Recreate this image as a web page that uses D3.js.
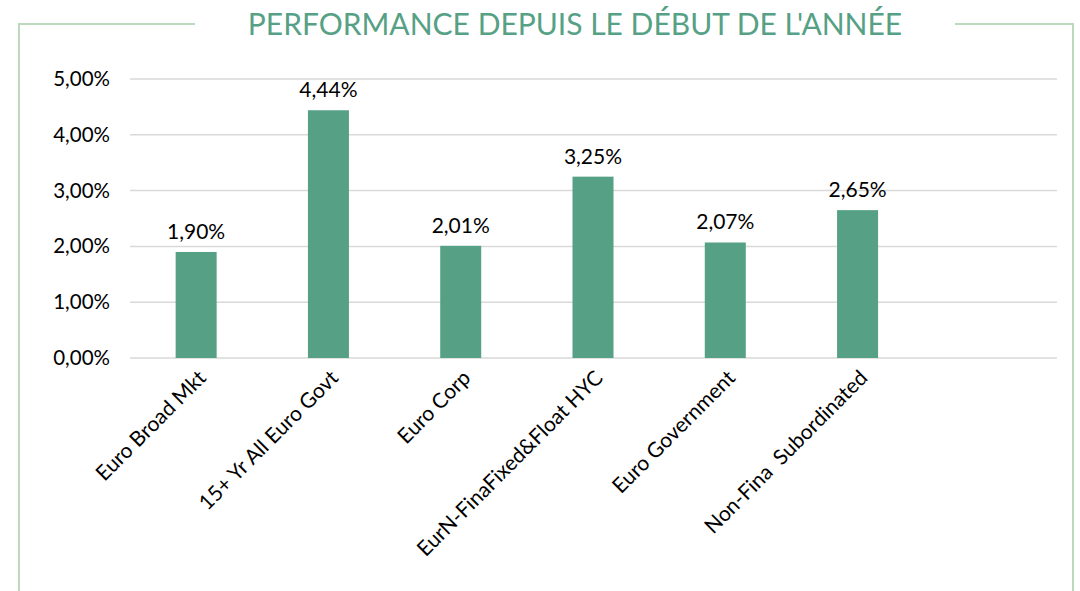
<!DOCTYPE html>
<html>
<head>
<meta charset="utf-8">
<script src="https://cdn.jsdelivr.net/npm/d3@7"></script>
<style>
  body { margin: 0; background: #fff; }
  svg { display: block; font-family: Lato, "Open Sans", sans-serif; }
</style>
</head>
<body>
<svg id="chart" width="1080" height="591"></svg>
<script>
var categories = ["Euro Broad Mkt", "15+ Yr All Euro Govt", "Euro Corp", "EurN-FinaFixed&Float HYC", "Euro Government", "Non-Fina  Subordinated", ""];
var values = [1.90, 4.44, 2.01, 3.25, 2.07, 2.65, null];
var yTicks = [0, 1, 2, 3, 4, 5];
var title = "PERFORMANCE DEPUIS LE DÉBUT DE L'ANNÉE";

var svg = d3.select("#chart");
var green = "#56a185";
var frame = "#bcd9bd";

// frame around the chart, broken by the title
svg.append("path")
    .attr("d", "M195,24 H19 V591 M955,24 H1073 V591")
    .attr("fill", "none")
    .attr("stroke", frame)
    .attr("stroke-width", 2);

svg.append("text")
    .attr("x", 575)
    .attr("y", 35)
    .attr("text-anchor", "middle")
    .attr("fill", green)
    .style("font-size", "30px")
    .text(title);

var x = d3.scaleBand()
    .domain(categories.map(function (d, i) { return i; }))
    .range([130, 1056])
    .paddingInner(0.69)
    .paddingOuter(0.345);

var y = d3.scaleLinear().domain([0, 5]).range([358, 79]);

// gridlines
svg.append("g")
    .selectAll("line")
    .data(yTicks)
    .enter().append("line")
    .attr("x1", 130)
    .attr("x2", 1057)
    .attr("y1", function (d) { return y(d); })
    .attr("y2", function (d) { return y(d); })
    .attr("stroke", "#d9d9d9")
    .attr("stroke-width", 1.5);

// y axis labels
var fmt = function (v) { return v.toFixed(2).replace(".", ",") + "%"; };
var yAxis = svg.append("g")
    .attr("transform", "translate(110,0)")
    .call(d3.axisLeft(y).tickValues(yTicks).tickSize(0).tickPadding(0).tickFormat(fmt));
yAxis.select(".domain").remove();
yAxis.selectAll("text")
    .attr("fill", "#000")
    .style("font-family", "Lato, sans-serif")
    .style("font-size", "20.5px");

var data = values.map(function (v, i) { return { i: i, v: v }; }).filter(function (d) { return d.v != null; });

svg.append("g")
    .selectAll("rect")
    .data(data)
    .enter().append("rect")
    .attr("x", function (d) { return x(d.i); })
    .attr("width", x.bandwidth())
    .attr("y", function (d) { return y(d.v); })
    .attr("height", function (d) { return y(0) - y(d.v); })
    .attr("fill", green);

svg.append("g")
    .selectAll("text")
    .data(data)
    .enter().append("text")
    .attr("x", function (d) { return x(d.i) + x.bandwidth() / 2; })
    .attr("y", function (d) { return y(d.v) - 13; })
    .attr("text-anchor", "middle")
    .style("font-size", "21px")
    .attr("fill", "#000")
    .text(function (d) { return fmt(d.v); });

// category labels, rotated
svg.append("g")
    .selectAll("text")
    .data(categories.map(function (c, i) { return { c: c, i: i }; }))
    .enter().append("text")
    .attr("transform", function (d) {
        return "translate(" + (x(d.i) + x.bandwidth() / 2 + 6) + ",374) rotate(-45)";
    })
    .attr("text-anchor", "end")
    .attr("dy", "0.35em")
    .style("font-size", "21px")
    .style("white-space", "pre")
    .attr("fill", "#000")
    .text(function (d) { return d.c; });
</script>
</body>
</html>
